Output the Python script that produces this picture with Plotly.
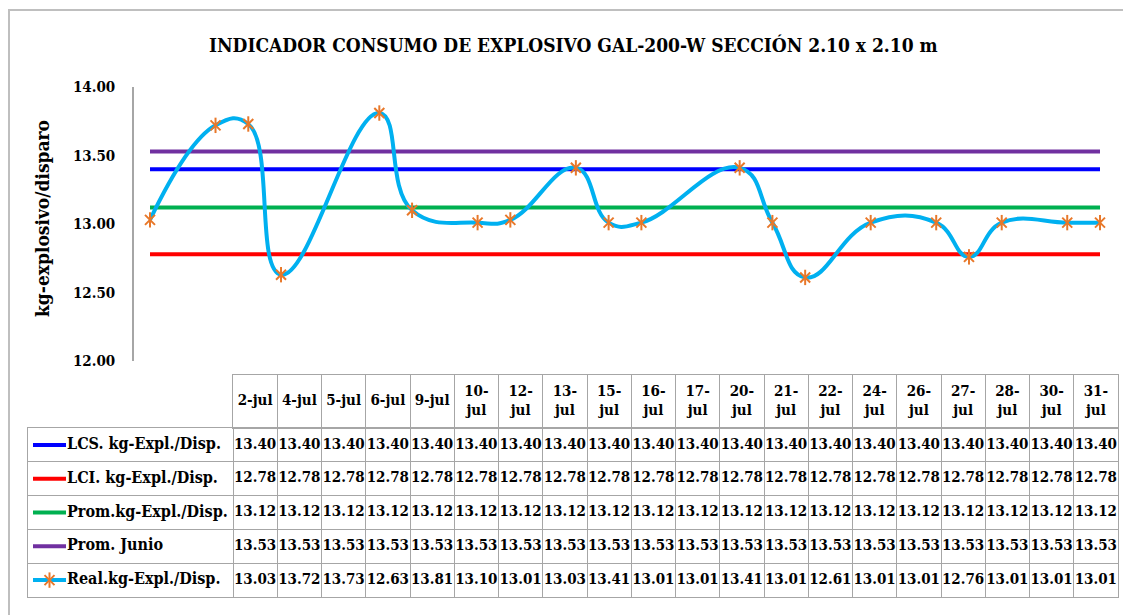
import pandas as pd
import plotly.graph_objects as go

# ---- data ---------------------------------------------------------------
days = ["2-jul", "4-jul", "5-jul", "6-jul", "9-jul", "10-jul", "12-jul", "13-jul",
        "15-jul", "16-jul", "17-jul", "20-jul", "21-jul", "22-jul", "24-jul",
        "26-jul", "27-jul", "28-jul", "30-jul", "31-jul"]

lcs = [13.40] * 20
lci = [12.78] * 20
prom = [13.12] * 20
prom_junio = [13.53] * 20
real = [13.03, 13.72, 13.73, 12.63, 13.81, 13.10, 13.01, 13.03, 13.41, 13.01,
        13.01, 13.41, 13.01, 12.61, 13.01, 13.01, 12.76, 13.01, 13.01, 13.01]

series_names = ["LCS. kg-Expl./Disp.", "LCI. kg-Expl./Disp.", "Prom.kg-Expl./Disp.",
                "Prom. Junio", "Real.kg-Expl./Disp."]
series_values = [lcs, lci, prom, prom_junio, real]
series_colors = ["#0000FF", "#FF0000", "#00B050", "#7030A0", "#00B0F0"]
MARKER_COLOR = "#E8782A"
GRID = "#A6A6A6"
FONT = "DejaVu Serif Condensed"

# ---- geometry -----------------------------------------------------------
# target canvas is 1131x615; the page body adds an 8px margin
OFF = 8
W, H = 1131 - OFF, 615 - OFF


def px(x):
    return (x - OFF) / W


def py(y):
    return 1 - (y - OFF) / H


dates = pd.to_datetime([f"2024-07-{d.split('-')[0].zfill(2)}" for d in days])
# first point at x=150px, last at x=1100px, plot area 134..1118px
px_per_day = (1100 - 150) / (dates[-1] - dates[0]).days
x0 = dates[0] - pd.Timedelta(days=(150 - 134) / px_per_day)
x1 = dates[-1] + pd.Timedelta(days=(1118 - 1100) / px_per_day)

# table geometry: legend column 28..233px, 20 data columns up to 1118px
COLW = (1118 - 233) / len(days)
LEG_W = (233 - 28) / COLW


def tx(x):
    """pixel x -> table column units"""
    return -0.5 - LEG_W + (x - 28) / COLW


# Excel-like star marker: an x plus a vertical bar
star_x = dict(symbol="x-thin-open", size=10, color=MARKER_COLOR,
              line=dict(color=MARKER_COLOR, width=2))
star_v = dict(symbol="line-ns-open", size=11, color=MARKER_COLOR,
              line=dict(color=MARKER_COLOR, width=2))

fig = go.Figure()

# ---- chart --------------------------------------------------------------
for name, vals, col in zip(series_names[:4], series_values[:4], series_colors[:4]):
    fig.add_trace(go.Scatter(
        x=dates, y=vals, mode="lines", name=name,
        line=dict(color=col, width=4),
    ))

fig.add_trace(go.Scatter(
    x=dates, y=real, mode="lines+markers", name=series_names[4],
    line=dict(color=series_colors[4], width=4, shape="spline", smoothing=1.3),
    marker=star_x,
))
fig.add_trace(go.Scatter(
    x=dates, y=real, mode="markers", marker=star_v, hoverinfo="skip",
))

# ---- data table ---------------------------------------------------------
cols = list(range(len(days)))
header = [d if len(d) <= 5 else d.replace("-", "-<br>") for d in days]
cell_font = dict(family=FONT, size=15, color="black", weight="bold")
label_font = dict(family=FONT, size=16, color="black", weight="bold")

fig.add_trace(go.Scatter(
    x=cols, y=[0] * len(cols), text=header, mode="text", xaxis="x3", yaxis="y3",
    textposition="middle center", textfont=cell_font, cliponaxis=False,
    hoverinfo="skip",
))

for i, (name, vals, col) in enumerate(zip(series_names, series_values, series_colors)):
    fig.add_trace(go.Scatter(
        x=cols, y=[i] * len(cols), text=[f"{v:.2f}" for v in vals], mode="text",
        xaxis="x4", yaxis="y4", textposition="middle center", textfont=cell_font,
        cliponaxis=False, hoverinfo="skip",
    ))
    # row label
    fig.add_trace(go.Scatter(
        x=[tx(67)], y=[i], text=[name], mode="text", xaxis="x4", yaxis="y4",
        textposition="middle right", textfont=label_font, cliponaxis=False,
        hoverinfo="skip",
    ))
    # legend key
    fig.add_trace(go.Scatter(
        x=[tx(33), tx(66)], y=[i, i], mode="lines", xaxis="x4", yaxis="y4",
        line=dict(color=col, width=4), hoverinfo="skip",
    ))

for mk in (star_x, star_v):
    fig.add_trace(go.Scatter(
        x=[tx(49.5)], y=[len(series_names) - 1], mode="markers",
        xaxis="x4", yaxis="y4", marker=mk, hoverinfo="skip",
    ))

box = dict(showline=True, mirror=True, linecolor=GRID, linewidth=1,
           showticklabels=False, ticks="", zeroline=False, gridcolor=GRID,
           gridwidth=1, fixedrange=True)
tick_font = dict(family=FONT, size=15, color="black", weight="bold")

fig.update_layout(
    width=W, height=H,
    margin=dict(l=0, r=0, t=0, b=0, autoexpand=False),
    paper_bgcolor="white", plot_bgcolor="white",
    showlegend=False,
    xaxis=dict(domain=[px(134), px(1118)], type="date", range=[x0, x1],
               showticklabels=False, showgrid=False, zeroline=False,
               showline=False, ticks=""),
    yaxis=dict(domain=[py(361), py(87)], range=[12, 14], dtick=0.5,
               tickformat=".2f", showgrid=False, zeroline=False,
               showline=True, linecolor="#A6A6A6", linewidth=1.5,
               ticks="", ticklabelstandoff=14, tickfont=tick_font),
    # header row
    xaxis3=dict(domain=[px(233), px(1118)], range=[-0.5, len(days) - 0.5],
                tickvals=[c + 0.5 for c in cols[:-1]], showgrid=True,
                anchor="y3", **box),
    yaxis3=dict(domain=[py(428), py(375)], range=[-0.5, 0.5], showgrid=False,
                anchor="x3", **box),
    # body rows
    xaxis4=dict(domain=[px(28), px(1118)], range=[tx(28), len(days) - 0.5],
                tickvals=[c - 0.5 for c in cols], showgrid=True,
                anchor="y4", **box),
    yaxis4=dict(domain=[py(597), py(428)], range=[len(series_names) - 0.5, -0.5],
                tickvals=[r + 0.5 for r in range(len(series_names) - 1)],
                showgrid=True, anchor="x4", **box),
    shapes=[dict(type="rect", xref="paper", yref="paper",
                 x0=px(9), x1=px(1140), y0=py(625), y1=py(10),
                 line=dict(color="#BFBFBF", width=2), layer="below")],
    annotations=[
        dict(text="INDICADOR CONSUMO DE EXPLOSIVO GAL-200-W SECCIÓN 2.10 x 2.10 m",
             x=px(573), y=py(45), xref="paper", yref="paper",
             xanchor="center", yanchor="middle", showarrow=False,
             font=dict(family=FONT, size=19, color="black", weight="bold")),
        dict(text="kg-explosivo/disparo", textangle=-90,
             x=px(42), y=py(219), xref="paper", yref="paper",
             xanchor="center", yanchor="middle", showarrow=False,
             font=dict(family=FONT, size=19, color="black", weight="bold")),
    ],
)

fig.write_html("out.html")
